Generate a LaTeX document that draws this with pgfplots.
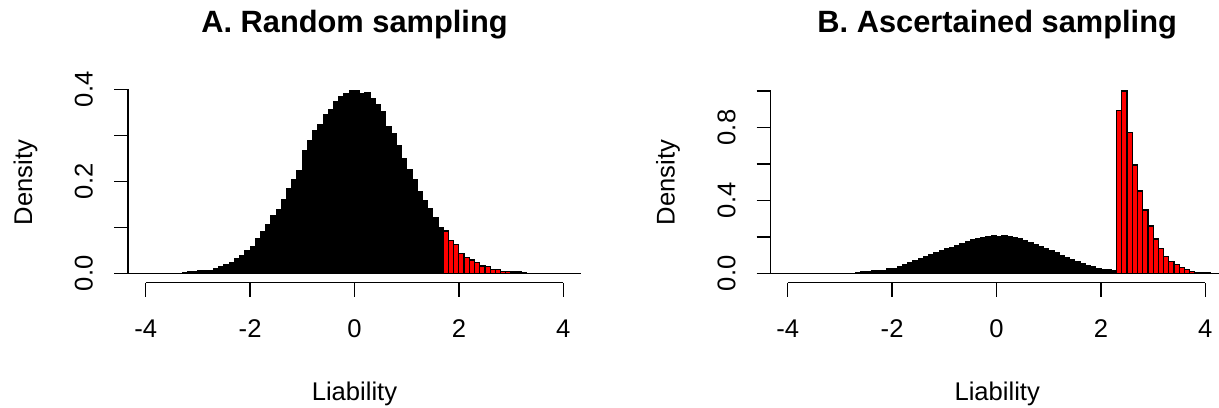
\documentclass[border=0pt]{standalone}
\usepackage{fontspec}
\setmainfont{Liberation Sans}
\usepackage{pgfplots}
\pgfplotsset{compat=1.18}

% 1 px of the reference = 0.5pt
\pgfplotsset{
  rhist/.style={
    width=226.5pt, height=100pt, scale only axis,
    clip=false,
    axis line style={draw=none},
    tick align=outside, major tick length=7pt,
    tick style={black, line width=0.75pt},
    xtick pos=left, ytick pos=left,
    xtick={-4,-2,0,2,4}, xticklabels={-4,-2,0,2,4},
    font=\fontsize{12.8pt}{15pt}\selectfont,
    xticklabel style={anchor=base, inner sep=0pt}, xticklabel shift=20.3pt,
    yticklabel style={rotate=90, anchor=base, inner sep=0pt}, yticklabel shift=10.65pt,
    every axis title shift=0pt,
    title style={font=\fontsize{15.4pt}{18pt}\selectfont\bfseries, at={(0.5,1.25)}, anchor=base},
    xlabel style={at={(0.5,-0.5865)}, anchor=base},
    ylabel style={at={(-0.2119,0.5)}, anchor=base},
    xlabel={Liability}, ylabel={Density},
  },
  blk/.style={ybar interval, fill=black, draw=black, line width=0.6pt},
  redb/.style={ybar interval, fill=red, draw=black, line width=0.6pt},
}

\begin{document}
\begin{tikzpicture}
\useasboundingbox (0,0) rectangle (609.5pt,-203.5pt);

% A. Random sampling
\begin{axis}[rhist,
  at={(64pt,-141.35pt)}, anchor=south west,
  xmin=-4.34, xmax=4.34, ymin=-0.0204, ymax=0.4144,
  ytick={0,0.1,0.2,0.3,0.4}, yticklabels={0.0,,0.2,,0.4},
  title={A. Random sampling}]
\addplot[black, line width=0.6pt] coordinates {(-4.34,0) (4.34,0)};
\addplot[blk] coordinates {
(-3.3,0.002) (-3.2,0.003) (-3.1,0.004) (-3.0,0.005) (-2.9,0.006) (-2.8,0.007)
(-2.7,0.011) (-2.6,0.0145) (-2.5,0.020) (-2.4,0.024) (-2.3,0.033) (-2.2,0.039)
(-2.1,0.049) (-2.0,0.058) (-1.9,0.076) (-1.8,0.091) (-1.7,0.105) (-1.6,0.125)
(-1.5,0.139) (-1.4,0.161) (-1.3,0.185) (-1.2,0.203) (-1.1,0.223) (-1.0,0.267)
(-0.9,0.288) (-0.8,0.310) (-0.7,0.324) (-0.6,0.346) (-0.5,0.355) (-0.4,0.373)
(-0.3,0.384) (-0.2,0.390) (-0.1,0.397) (0.0,0.397) (0.1,0.391) (0.2,0.393)
(0.3,0.379) (0.4,0.366) (0.5,0.351) (0.6,0.320) (0.7,0.303) (0.8,0.278)
(0.9,0.250) (1.0,0.226) (1.1,0.203) (1.2,0.178) (1.3,0.158) (1.4,0.141)
(1.5,0.122) (1.6,0.100) (1.7,0)};
\addplot[redb] coordinates {
(1.7,0.092) (1.8,0.071) (1.9,0.062) (2.0,0.043) (2.1,0.035) (2.2,0.029)
(2.3,0.023) (2.4,0.016) (2.5,0.0145) (2.6,0.009) (2.7,0.009) (2.8,0.0045)
(2.9,0.0045) (3.0,0)};
\addplot[blk] coordinates {(3.0,0.003) (3.1,0.003) (3.2,0.002) (3.3,0)};
\draw[black, line width=0.75pt] (axis cs:-4,-0.0204) -- (axis cs:4,-0.0204);
\draw[black, line width=0.75pt] (axis cs:-4.34,0) -- (axis cs:-4.34,0.4);
\end{axis}

% B. Ascertained sampling
\begin{axis}[rhist,
  at={(385.35pt,-141.35pt)}, anchor=south west,
  xmin=-4.326, xmax=4.352, ymin=-0.0516, ymax=1.0455,
  ytick={0,0.2,0.4,0.6,0.8,1.0}, yticklabels={0.0,,0.4,,0.8,},
  title={B. Ascertained sampling}]
\addplot[black, line width=0.6pt] coordinates {(-4.326,0) (4.352,0)};
\addplot[blk] coordinates {
(-2.7,0.005) (-2.6,0.007) (-2.5,0.008) (-2.4,0.013) (-2.3,0.014) (-2.2,0.016)
(-2.1,0.024) (-2.0,0.027) (-1.9,0.036) (-1.8,0.047) (-1.7,0.058) (-1.6,0.069)
(-1.5,0.078) (-1.4,0.089) (-1.3,0.100) (-1.2,0.111) (-1.1,0.122) (-1.0,0.133)
(-0.9,0.143) (-0.8,0.154) (-0.7,0.163) (-0.6,0.176) (-0.5,0.183) (-0.4,0.188)
(-0.3,0.196) (-0.2,0.201) (-0.1,0.205) (0.0,0.201) (0.1,0.205) (0.2,0.201)
(0.3,0.197) (0.4,0.190) (0.5,0.181) (0.6,0.170) (0.7,0.159) (0.8,0.148)
(0.9,0.135) (1.0,0.122) (1.1,0.111) (1.2,0.099) (1.3,0.086) (1.4,0.075)
(1.5,0.062) (1.6,0.053) (1.7,0.044) (1.8,0.035) (1.9,0.026) (2.0,0.022)
(2.1,0.018) (2.2,0.013) (2.3,0)};
\addplot[redb] coordinates {
(2.3,0.892) (2.4,1.000) (2.5,0.771) (2.6,0.594) (2.7,0.452) (2.8,0.347)
(2.9,0.260) (3.0,0.188) (3.1,0.134) (3.2,0.092) (3.3,0.066) (3.4,0.048)
(3.5,0.031) (3.6,0.022) (3.7,0.012) (3.8,0)};
\addplot[blk] coordinates {(3.8,0.005) (3.9,0.005) (4.0,0.004) (4.1,0)};
\draw[black, line width=0.75pt] (axis cs:-4,-0.0516) -- (axis cs:4,-0.0516);
\draw[black, line width=0.75pt] (axis cs:-4.326,0) -- (axis cs:-4.326,1.0);
\end{axis}
\end{tikzpicture}
\end{document}
